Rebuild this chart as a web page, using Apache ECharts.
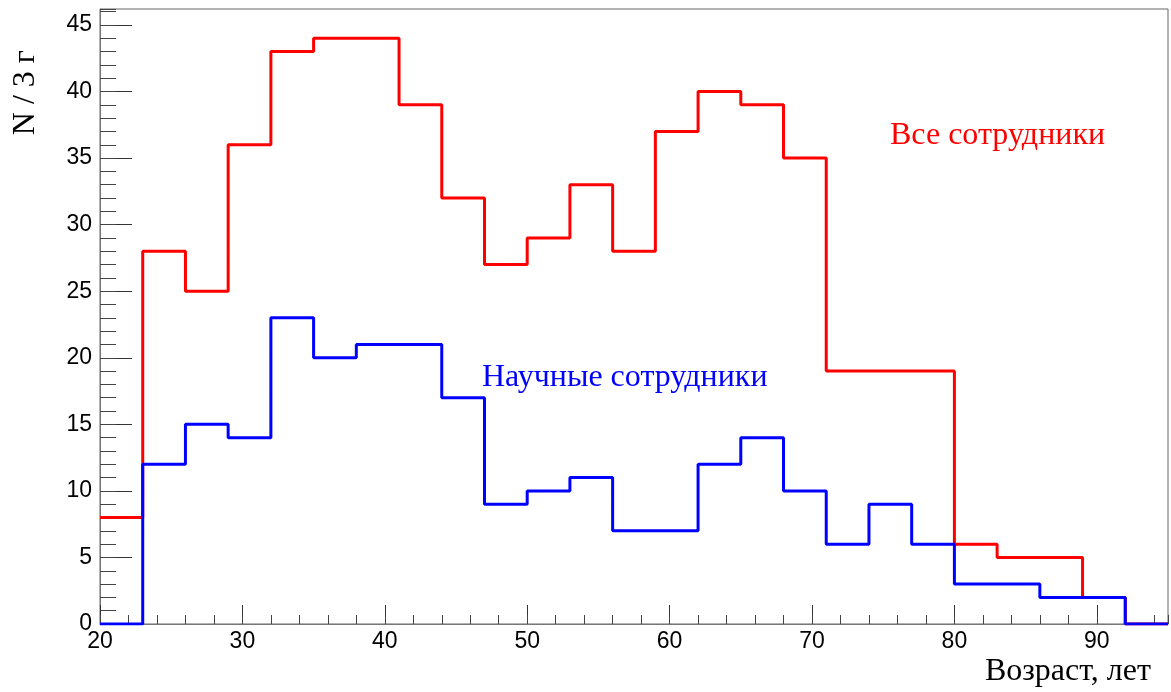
<!DOCTYPE html>
<html>
<head>
<meta charset="utf-8">
<title>Возраст сотрудников</title>
<script src="https://cdn.jsdelivr.net/npm/echarts@6/dist/echarts.min.js"></script>
<style>
	html, body { margin: 0; padding: 0; background: #fff; }
	#chart { width: 1171px; height: 692px; }
</style>
</head>
<body>
<div id="chart"></div>
<script>
	// левые края бинов (шаг 3 года)
	var binStarts = [20, 23, 26, 29, 32, 35, 38, 41, 44, 47, 50, 53, 56, 59, 62, 65, 68, 71, 74, 77, 80, 83, 86, 89, 92];
	var xMin = 20, xMax = 95;
	var yMax = 46.2;
	// все сотрудники
	var allStaff = [8, 28, 25, 36, 43, 44, 44, 39, 32, 27, 29, 33, 28, 37, 40, 39, 35, 19, 19, 19, 6, 5, 5, 2, 0];
	// научные сотрудники
	var sciStaff = [0, 12, 15, 14, 23, 20, 21, 21, 17, 9, 10, 11, 7, 7, 12, 14, 10, 6, 9, 6, 3, 3, 2, 2, 0];

	var labelFont = '"Liberation Sans", Arial, Helvetica, sans-serif';
	var titleFont = '"Liberation Serif", "Times New Roman", serif';

	// точки ступенчатой линии: левый край каждого бина + правая граница последнего
	function toSteps(vals) {
		var pts = binStarts.map(function (x, i) { return [x, vals[i]]; });
		pts.push([xMax, vals[vals.length - 1]]);
		return pts;
	}

	var chart = echarts.init(document.getElementById('chart'));
	var option = {
		animation: false,
		backgroundColor: '#fff',
		grid: {
			left: 100,
			right: 3,
			top: 9,
			bottom: 68,
			show: true,
			borderColor: '#666',
			borderWidth: 1,
			backgroundColor: 'transparent'
		},
		xAxis: [{
			type: 'value',
			min: xMin,
			max: xMax,
			interval: 10,
			axisLine: { onZero: false, lineStyle: { color: '#777', width: 1 } },
			axisTick: { inside: true, length: 19, lineStyle: { color: '#333' } },
			axisLabel: {
				margin: 6,
				fontFamily: labelFont,
				fontSize: 23,
				color: '#000',
				showMaxLabel: false
			},
			splitLine: { show: false }
		}, {
			// мелкие деления
			type: 'value',
			position: 'bottom',
			min: xMin,
			max: xMax,
			interval: 2,
			axisLine: { show: false },
			axisTick: { inside: true, length: 9, lineStyle: { color: '#444' } },
			axisLabel: { show: false },
			splitLine: { show: false }
		}],
		yAxis: [{
			type: 'value',
			min: 0,
			max: yMax,
			interval: 5,
			axisLine: { show: true, onZero: false, lineStyle: { color: '#777', width: 1 } },
			axisTick: { show: true, inside: true, length: 32, lineStyle: { color: '#333' } },
			axisLabel: {
				margin: 8,
				fontFamily: labelFont,
				fontSize: 23,
				color: '#000',
				showMaxLabel: false
			},
			splitLine: { show: false }
		}, {
			type: 'value',
			position: 'left',
			min: 0,
			max: yMax,
			interval: 1,
			axisLine: { show: false },
			axisTick: { show: true, inside: true, length: 16, lineStyle: { color: '#444' } },
			axisLabel: { show: false },
			splitLine: { show: false }
		}],
		series: [{
			name: 'Все сотрудники',
			type: 'line',
			step: 'end',
			symbol: 'none',
			data: toSteps(allStaff),
			lineStyle: { color: '#ff0000', width: 3 },
			z: 3
		}, {
			name: 'Научные сотрудники',
			type: 'line',
			step: 'end',
			symbol: 'none',
			data: toSteps(sciStaff),
			lineStyle: { color: '#0000ff', width: 3 },
			z: 4
		}],
		graphic: [{
			type: 'text',
			left: 890,
			top: 120,
			style: { text: 'Все сотрудники', fill: '#ff0000', font: '32px ' + titleFont }
		}, {
			type: 'text',
			left: 482,
			top: 362,
			style: { text: 'Научные сотрудники', fill: '#0000ff', font: '32px ' + titleFont }
		}, {
			type: 'text',
			right: 20,
			top: 656,
			style: { text: 'Возраст, лет', fill: '#000', font: '32px ' + titleFont }
		}, {
			type: 'text',
			x: 26,
			y: 50,
			rotation: Math.PI / 2,
			style: {
				text: 'N / 3 г',
				fill: '#000',
				font: '32px ' + titleFont,
				align: 'right',
				verticalAlign: 'middle'
			}
		}]
	};
	chart.setOption(option);
</script>
</body>
</html>
